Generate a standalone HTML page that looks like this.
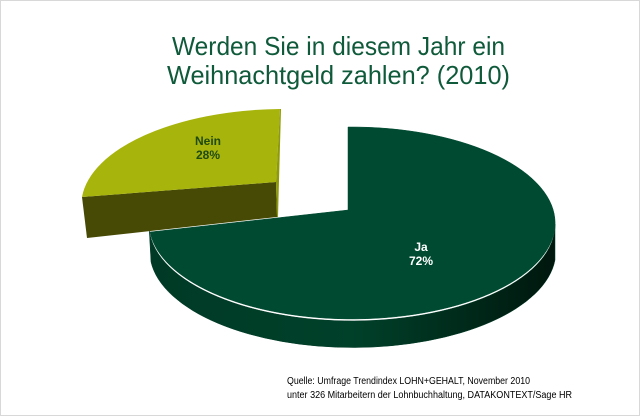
<!DOCTYPE html>
<html><head><meta charset="utf-8"><style>
html,body{margin:0;padding:0;background:#fff;}
svg{display:block;}
</style></head><body>
<svg width="640" height="416" viewBox="0 0 640 416" xmlns="http://www.w3.org/2000/svg">
<defs>
<linearGradient id="js" x1="0" x2="1" y1="0" y2="0">
<stop offset="0" stop-color="#003a26"/><stop offset="0.5" stop-color="#00412a"/><stop offset="1" stop-color="#00170e"/>
</linearGradient>
</defs>
<rect x="0.5" y="0.5" width="639" height="415" fill="#fff" stroke="#d8d8d8"/>
<g font-family="'Liberation Sans',sans-serif" fill="#0f5a3a" font-size="26">
<text x="172" y="55" textLength="333" lengthAdjust="spacingAndGlyphs">Werden Sie in diesem Jahr ein</text>
<text x="167" y="84" textLength="343" lengthAdjust="spacingAndGlyphs">Weihnachtgeld zahlen? (2010)</text>
</g>
<path d="M149,226 A203,96 0 0 0 555,224 L555,260 A203,96 0 0 1 151,262 Z" fill="url(#js)" stroke="#003a26" stroke-width="0.5"/>
<path d="M348,210 L348,127 A203,96 0 1 1 150,232 Z" fill="#004a32" stroke="#004a32" stroke-width="0.5"/>
<path d="M82,197 L276,182 L277,217 L87,238 Z" fill="#464a04"/>
<path d="M276,182 L280,109 A203,96 0 0 0 82,197 Z" fill="#a7b40c"/>
<path d="M276,182 L280,109 L281,109 L278,217 L277,217 Z" fill="#8f9a08"/>
<g font-family="'Liberation Sans',sans-serif" font-weight="bold" font-size="12" text-anchor="middle">
<text x="208" y="145" fill="#1f4a10">Nein</text>
<text x="208" y="159" fill="#1f4a10">28%</text>
<text x="421" y="251" fill="#fff">Ja</text>
<text x="421" y="265" fill="#fff">72%</text>
</g>
<g font-family="'Liberation Sans',sans-serif" font-size="10" fill="#000">
<text x="287" y="384" textLength="243" lengthAdjust="spacingAndGlyphs">Quelle: Umfrage Trendindex LOHN+GEHALT, November 2010</text>
<text x="287" y="398" textLength="285" lengthAdjust="spacingAndGlyphs">unter 326 Mitarbeitern der Lohnbuchhaltung, DATAKONTEXT/Sage HR</text>
</g>
</svg>
</body></html>
